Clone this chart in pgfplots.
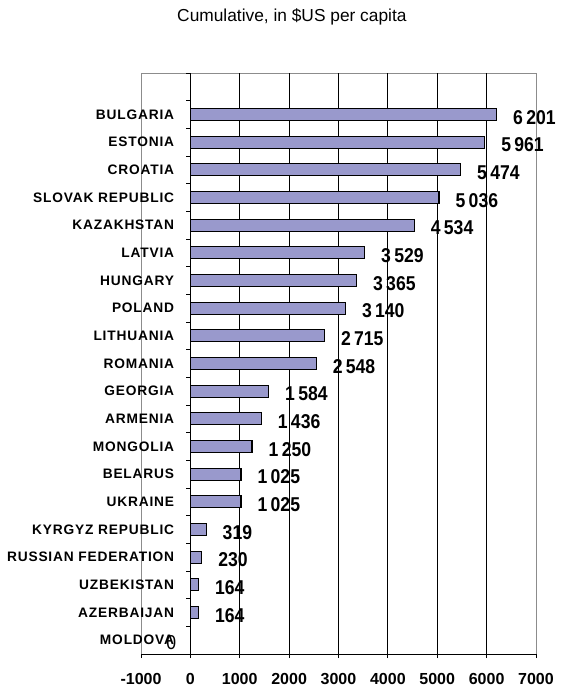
\documentclass[border=0pt]{standalone}
\usepackage{fontspec}
\setmainfont{Liberation Sans}
\newfontfamily\valfont[FakeStretch=0.88]{Liberation Sans}
\newfontfamily\catfont[LetterSpace=6]{Liberation Sans}
\usepackage{pgfplots}
\pgfplotsset{compat=1.18}
\usepackage{pgfplotstable}
\definecolor{barfill}{RGB}{153,153,204}

\pgfplotstableread{
pos value
1 164
2 164
3 230
4 319
5 1025
6 1025
7 1250
8 1436
9 1584
10 2548
11 2715
12 3140
13 3365
14 3529
15 4534
16 5036
17 5474
18 5961
19 6201
}\data
\pgfplotstableread{
pos value
0 0
}\zerodata

\begin{document}
\begin{tikzpicture}[x=1pt,y=1pt]
\useasboundingbox (0,0) rectangle (422.25,-521.25);
\begin{axis}[
  at={(105.75pt,-54.75pt)}, anchor=north west,
  width=296.25pt, height=435.75pt, scale only axis,
  xmin=-1000, xmax=7000, ymin=-0.5, ymax=20.5,
  axis x line=bottom, axis y line=center,
  axis line style={-, black, line width=0.6pt},
  axis background/.style={draw=black!45, line width=0.6pt},
  hide obscured x ticks=false,
  clip=false,
  /pgf/number format/assume math mode=true,
  xtick={-1000,0,...,7000},
  minor xtick={-1000,0,...,7000},
  extra x ticks={1000,2000,3000,4000,5000,6000},
  extra x tick labels={},
  extra x tick style={grid=major, major grid style={black, line width=0.6pt}},
  ytick={0,...,19},
  yticklabels={MOLDOVA,AZERBAIJAN,UZBEKISTAN,RUSSIAN FEDERATION,KYRGYZ REPUBLIC,UKRAINE,BELARUS,MONGOLIA,ARMENIA,GEORGIA,ROMANIA,LITHUANIA,POLAND,HUNGARY,LATVIA,KAZAKHSTAN,SLOVAK REPUBLIC,CROATIA,ESTONIA,BULGARIA},
  minor ytick={-0.5,0.5,...,20.5},
  major tick length=0pt, minor tick length=3pt,
  tick align=outside,
  tick style={black, line width=0.6pt},
  yticklabel style={font=\catfont\bfseries\fontsize{10.3}{12}\selectfont, anchor=east, inner sep=0pt, xshift=-12pt},
  xticklabel style={font=\bfseries\fontsize{12}{14}\selectfont, anchor=north, inner sep=0pt, yshift=-14pt, /pgf/number format/1000 sep={}},
  title={Cumulative, in \$US per capita},
  title style={at={(0.382,1)}, anchor=center, yshift=36pt, font=\fontsize{13}{15}\selectfont},
]
\addplot[xbar, bar shift=0pt, bar width=9pt, fill=barfill, draw=black, line width=0.9pt,
  point meta=x, nodes near coords,
  nodes near coords style={font=\valfont\bfseries\fontsize{15}{16}\selectfont, anchor=west, inner sep=0pt, xshift=12pt, yshift=-2pt, /pgf/number format/.cd, fixed, precision=0, 1000 sep={\,}}]
  table[x=value, y=pos] {\data};
\addplot[xbar, bar shift=0pt, bar width=9pt, fill=barfill, draw=black, line width=1.2pt,
  point meta=x, nodes near coords,
  nodes near coords style={font=\valfont\fontsize{15}{16}\selectfont, anchor=east, inner sep=0pt, xshift=-10pt, yshift=-2pt, /pgf/number format/.cd, fixed, precision=0}]
  table[x=value, y=pos] {\zerodata};
\end{axis}
\end{tikzpicture}
\end{document}
